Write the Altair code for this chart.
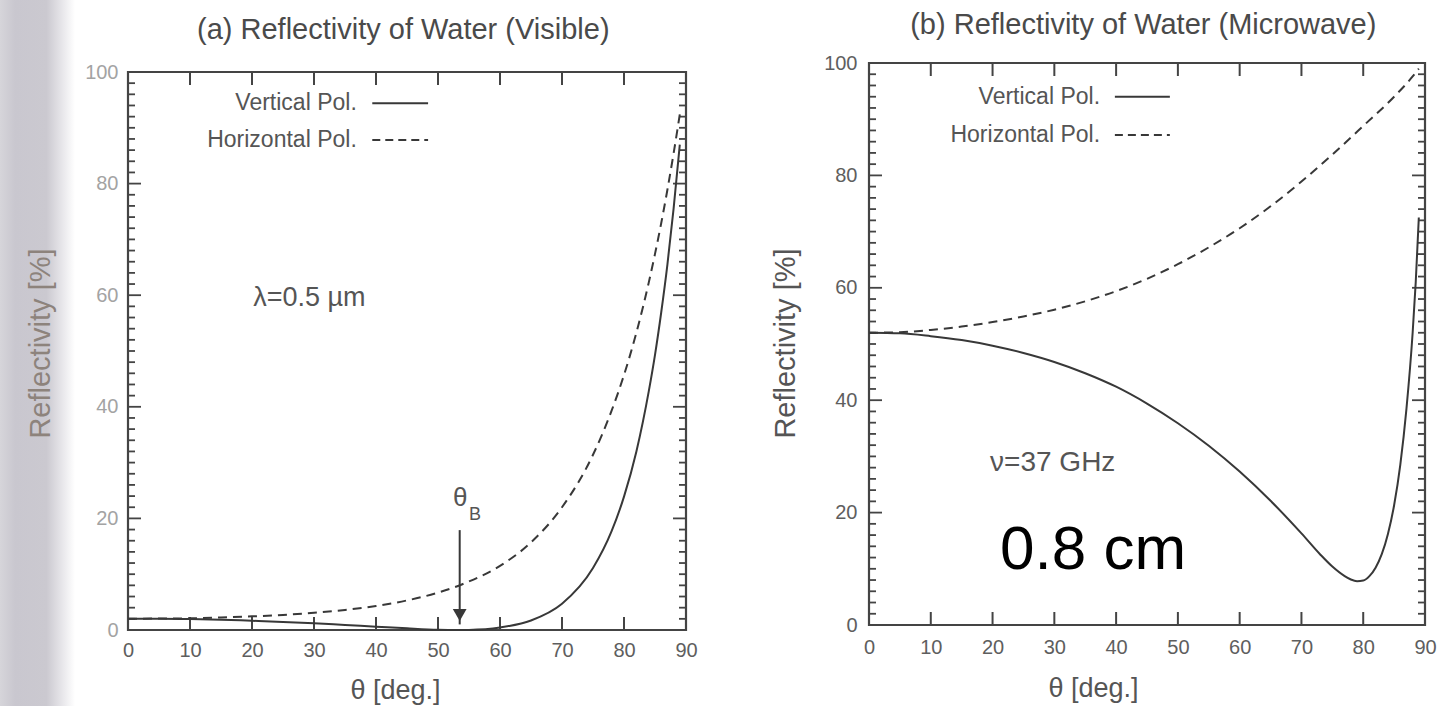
import altair as alt
import pandas as pd

FONT = "Liberation Sans"

# ---------------- data ----------------
# (a) visible, lambda = 0.5 um
theta_vis = [0, 5, 10, 15, 20, 25, 30, 35, 40, 45, 50, 53, 55, 60, 65, 70, 75, 78, 80, 82, 84, 85, 86, 87, 88, 89]
h_vis = [2.0, 2.05, 2.1, 2.25, 2.45, 2.7, 3.1, 3.6, 4.3, 5.3, 6.7, 7.8, 8.7, 11.5, 15.7, 22.0, 31.4, 39.3, 45.7,
         53.3, 62.3, 67.4, 72.9, 78.9, 85.4, 92.4]
v_vis = [2.0, 2.0, 1.95, 1.85, 1.65, 1.45, 1.2, 0.9, 0.6, 0.3, 0.05, 0.0, 0.02, 0.45, 1.7, 4.7, 11.1, 17.7, 23.9,
         32.0, 42.8, 49.3, 56.9, 65.5, 75.5, 87.0]

# (b) microwave, nu = 37 GHz
theta_mw_h = [0, 5, 10, 15, 20, 25, 30, 35, 40, 45, 50, 55, 60, 65, 70, 75, 80, 85, 88, 89]
h_mw = [52.0, 52.1, 52.5, 53.1, 53.9, 54.9, 56.1, 57.6, 59.4, 61.6, 64.2, 67.2, 70.6, 74.5, 78.9, 83.7, 88.8,
        94.0, 97.6, 99.0]
theta_mw_v = [0, 5, 10, 15, 20, 25, 30, 35, 40, 45, 50, 55, 60, 65, 70, 73, 75, 77, 78, 79, 80, 81, 82, 83, 84,
              85, 86, 87, 88, 88.5, 89]
v_mw = [52.0, 51.9, 51.4, 50.7, 49.7, 48.4, 46.8, 44.8, 42.4, 39.4, 35.9, 31.9, 27.3, 22.1, 16.3, 12.6, 10.4,
        8.7, 8.1, 7.8, 7.9, 8.7, 10.2, 12.6, 16.2, 21.3, 28.5, 38.5, 52.0, 61.0, 72.5]

x_labels = [0, 10, 20, 30, 40, 50, 60, 70, 80, 90]
y_labels = [0, 20, 40, 60, 80, 100]
x_inner_ticks = [10, 20, 30, 40, 50, 60, 70, 80]
y_major_ticks = [20, 40, 60, 80]
y_minor_ticks = [2, 4, 6, 8, 10, 12, 14, 16, 18, 22, 24, 26, 28, 30, 32, 34, 36, 38, 42, 44, 46, 48, 50, 52, 54,
                 56, 58, 62, 64, 66, 68, 70, 72, 74, 76, 78, 82, 84, 86, 88, 90, 92, 94, 96, 98]

legend_labels = ["Vertical Pol.", "Horizontal Pol."]
titles = ["(a) Reflectivity of Water (Visible)", "(b) Reflectivity of Water (Microwave)"]

CURVE = "#383838"
FRAME = "#444444"
TXT = "#555555"


def make_panel(p):
    W, H = p["width"], p["height"]
    ybot, ytop = p["y_range"]
    xs = alt.Scale(domain=[x_labels[0], x_labels[-1]], nice=False, zero=False)
    ys = alt.Scale(domain=[y_labels[0], y_labels[-1]], nice=False, range=[ybot, ytop])
    xaxis = alt.Axis(values=x_labels, ticks=False, domain=False, grid=False, labelFlush=False,
                     labelFont=FONT, labelFontSize=20, labelColor=p["xlabel_color"],
                     labelPadding=p["xlabel_pad"], title="θ [deg.]", titleFont=FONT,
                     titleFontSize=27, titleFontWeight="normal", titleColor=TXT,
                     titleX=p["xtitle_x"], titleY=p["xtitle_y"], titleBaseline="middle",
                     titleAlign="center", zindex=1)
    yaxis = alt.Axis(values=y_labels, ticks=False, domain=False, grid=False, labelFlush=False,
                     labelFont=FONT, labelFontSize=20, labelColor=p["ylabel_color"],
                     labelPadding=p["ylabel_pad"], title="Reflectivity [%]", titleFont=FONT,
                     titleFontSize=29, titleFontWeight="normal", titleColor=p["ytitle_color"],
                     titleAngle=-90, titleX=p["ytitle_x"], titleY=p["ytitle_y"],
                     titleBaseline="middle", titleAlign="center", zindex=1)

    def X(f):
        return alt.X(f, type="quantitative", scale=xs, axis=xaxis)

    def Y(f):
        return alt.Y(f, type="quantitative", scale=ys, axis=yaxis)

    layers = []
    if p.get("band"):
        band = alt.Chart(pd.DataFrame({"k": [0]})).mark_rect(
            color=alt.LinearGradient(
                gradient="linear", x1=0, x2=1, y1=0, y2=0,
                stops=[alt.GradientStop(color="#d6d5da", offset=0),
                       alt.GradientStop(color="#c9c7cf", offset=0.2),
                       alt.GradientStop(color="#cbc9d0", offset=0.62),
                       alt.GradientStop(color="#e6e5e9", offset=0.82),
                       alt.GradientStop(color="#ffffff", offset=1)])
        ).encode(x=alt.value(-128), x2=alt.value(-53), y=alt.value(-63), y2=alt.value(643))
        layers.append(band)

    frame_df = pd.DataFrame({"t0": [x_labels[0]], "t1": [x_labels[-1]],
                             "r0": [y_labels[0]], "r1": [y_labels[-1]]})
    frame = alt.Chart(frame_df).mark_rect(fillOpacity=0, stroke=FRAME, strokeWidth=2.2).encode(
        x=X("t0"), x2=alt.X2("t1"), y=Y("r0"), y2=alt.Y2("r1"))
    layers.append(frame)

    xt = pd.DataFrame({"t": x_inner_ticks})
    layers.append(alt.Chart(xt).mark_rule(color=FRAME, strokeWidth=2).encode(
        x=X("t"), y=alt.value(ybot), y2=alt.value(ybot - 13)))
    layers.append(alt.Chart(xt).mark_rule(color=FRAME, strokeWidth=2).encode(
        x=X("t"), y=alt.value(ytop), y2=alt.value(ytop + 13)))
    ymj = pd.DataFrame({"r": y_major_ticks})
    ymn = pd.DataFrame({"r": y_minor_ticks})
    for df, ln in ((ymj, 13), (ymn, 7)):
        layers.append(alt.Chart(df).mark_rule(color=FRAME, strokeWidth=1.8).encode(
            y=Y("r"), x=alt.value(0), x2=alt.value(ln)))
        layers.append(alt.Chart(df).mark_rule(color=FRAME, strokeWidth=1.8).encode(
            y=Y("r"), x=alt.value(W), x2=alt.value(W - ln)))

    dh = pd.DataFrame({"t": p["theta_h"], "r": p["h"]})
    dv = pd.DataFrame({"t": p["theta_v"], "r": p["v"]})
    layers.append(alt.Chart(dh).mark_line(color=CURVE, strokeWidth=2, strokeDash=[9, 6],
                                          interpolate="monotone").encode(x=X("t"), y=Y("r")))
    layers.append(alt.Chart(dv).mark_line(color=CURVE, strokeWidth=2,
                                          interpolate="monotone").encode(x=X("t"), y=Y("r")))

    # in-plot legend
    lg = p["legend"]
    ltxt = pd.DataFrame({"t": [lg["text_t"]] * 2, "r": lg["r"], "label": legend_labels})
    layers.append(alt.Chart(ltxt).mark_text(align="right", baseline="middle", font=FONT,
                                            fontSize=23, color=TXT).encode(
        x=X("t"), y=Y("r"), text="label:N"))
    lsol = pd.DataFrame({"t1": [lg["line_t"][0]], "t2": [lg["line_t"][1]], "r": [lg["r"][0]]})
    ldash = pd.DataFrame({"t1": [lg["line_t"][0]], "t2": [lg["line_t"][1]], "r": [lg["r"][1]]})
    layers.append(alt.Chart(lsol).mark_rule(color=CURVE, strokeWidth=2).encode(
        x=X("t1"), x2=alt.X2("t2"), y=Y("r")))
    layers.append(alt.Chart(ldash).mark_rule(color=CURVE, strokeWidth=2, strokeDash=[8, 5]).encode(
        x=X("t1"), x2=alt.X2("t2"), y=Y("r")))

    for a in p["annotations"]:
        adf = pd.DataFrame({"t": [a["t"]], "r": [a["r"]], "s": [a["text"]]})
        layers.append(alt.Chart(adf).mark_text(align="left", baseline="middle", font=FONT,
                                               fontSize=a["size"], color=a["color"]).encode(
            x=X("t"), y=Y("r"), text="s:N"))

    if p.get("arrow"):
        ar = p["arrow"]
        adf = pd.DataFrame({"t": [ar["t"]], "r1": [ar["r_top"]], "r2": [ar["r_bot"]]})
        layers.append(alt.Chart(adf).mark_rule(color=CURVE, strokeWidth=2).encode(
            x=X("t"), y=Y("r1"), y2=alt.Y2("r2")))
        hdf = pd.DataFrame({"t": [ar["t"]], "r": [ar["r_head"]]})
        layers.append(alt.Chart(hdf).mark_point(shape="triangle-down", filled=True, size=190,
                                                color=CURVE, opacity=1).encode(
            x=X("t"), y=Y("r")))

    # panel title as a text mark, centred on the middle of the angle axis
    tdf = pd.DataFrame({"t": [p["title_t"]], "s": [p["title"]]})
    layers.append(alt.Chart(tdf).mark_text(align="center", baseline="middle", font=FONT,
                                           fontSize=29, color="#4a4a4a").encode(
        x=X("t"), y=alt.value(p["title_y"]), text="s:N"))

    return alt.layer(*layers).properties(width=W, height=H)


left = make_panel(dict(
    width=558, height=567, y_range=(567, 9), band=True,
    title=titles[0], title_t=44.4, title_y=-33,
    xlabel_color="#5e5e5e", xlabel_pad=10, xtitle_x=267, xtitle_y=60,
    ylabel_color="#a3a3a3", ylabel_pad=10, ytitle_color="#8d837c", ytitle_x=-88, ytitle_y=280,
    theta_h=theta_vis, h=h_vis, theta_v=theta_vis, v=v_vis,
    legend=dict(text_t=36.9, line_t=(39.4, 48.4), r=[94.4, 87.8]),
    annotations=[dict(t=20.2, r=59.5, text="λ=0.5 µm", size=27, color=TXT),
                 dict(t=52.4, r=23.7, text="θ", size=26, color=TXT),
                 dict(t=55.0, r=20.6, text="B", size=18, color=TXT)],
    arrow=dict(t=53.5, r_top=17.9, r_bot=1.0, r_head=2.7),
))

right = make_panel(dict(
    width=556, height=567, y_range=(562, 0),
    title=titles[1], title_t=44.4, title_y=-38,
    xlabel_color="#5e5e5e", xlabel_pad=7, xtitle_x=224, xtitle_y=58,
    ylabel_color="#5e5e5e", ylabel_pad=12, ytitle_color=TXT, ytitle_x=-84, ytitle_y=280,
    theta_h=theta_mw_h, h=h_mw, theta_v=theta_mw_v, v=v_mw,
    legend=dict(text_t=37.4, line_t=(39.8, 48.7), r=[94.0, 87.2]),
    annotations=[dict(t=19.6, r=28.8, text="ν=37 GHz", size=28, color=TXT),
                 dict(t=21.2, r=13.3, text="0.8 cm", size=62, color="#000000")],
))

chart = alt.hconcat(left, right, spacing=183, bounds="flush").properties(
    padding=0, background="white"
).configure_view(stroke=None)

chart.save("out.html", embed_options={"renderer": "svg", "actions": False})
